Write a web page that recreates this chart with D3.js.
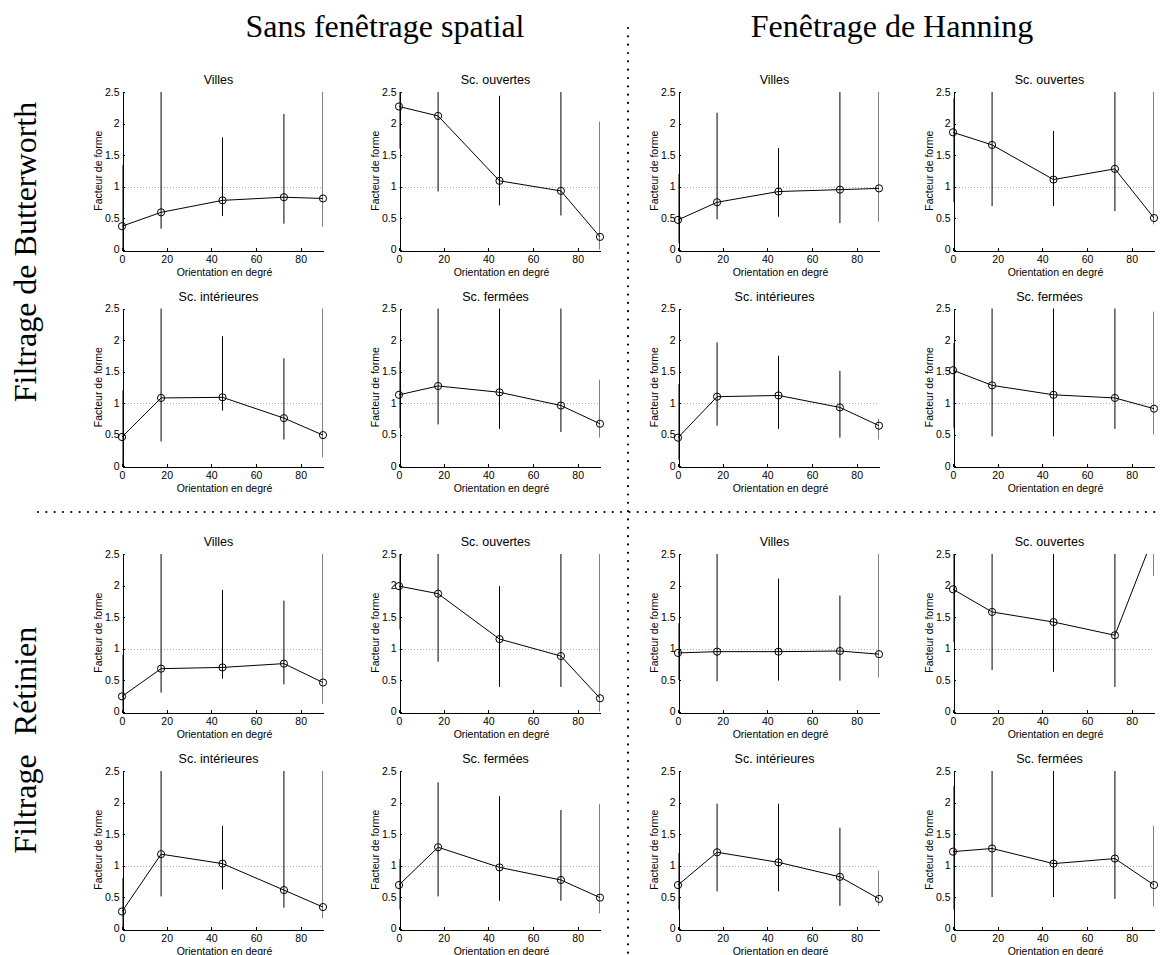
<!DOCTYPE html>
<html><head><meta charset="utf-8">
<script src="https://cdn.jsdelivr.net/npm/d3@7"></script>
<style>
body{margin:0;background:#fff;}
svg{display:block;}
</style>
</head><body>
<svg id="chart" width="1160" height="955"></svg>
<script>
// ---------- data ----------
const orientations = [0, 17.5, 45, 72.5, 90];
const xTicks = [0, 20, 40, 60, 80];
const yTicks = [0, 0.5, 1, 1.5, 2, 2.5];
const yTickLabels = ["0", "0.5", "1", "1.5", "2", "2.5"];
const sceneTitles = ["Villes", "Sc. ouvertes", "Sc. intérieures", "Sc. fermées"];
const columnHeaders = ["Sans fenêtrage spatial", "Fenêtrage de Hanning"];
const filterWords = [["Filtrage de Butterworth"], ["Rétinien", "Filtrage"]];
const xLabel = "Orientation en degré";
const yLabel = "Facteur de forme";
const referenceLevel = 1;

// Butterworth, sans fenêtrage (Villes, Sc. ouvertes, Sc. intérieures, Sc. fermées)
const bwSansMean = [[0.37, 0.59, 0.78, 0.83, 0.81], [2.27, 2.12, 1.09, 0.93, 0.20], [0.46, 1.08, 1.09, 0.76, 0.49], [1.13, 1.27, 1.17, 0.96, 0.67]];
const bwSansLow  = [[-0.60, 0.33, 0.53, 0.41, 0.36], [1.60, 0.92, 0.70, 0.54, -1.63], [-0.30, 0.39, 0.88, 0.42, 0.14], [0.60, 0.66, 0.59, 0.54, 0.45]];
const bwSansHigh = [[1.34, 2.90, 1.78, 2.15, 2.70], [2.95, 3.30, 2.44, 3.20, 2.03], [1.20, 2.90, 2.06, 1.71, 2.80], [1.66, 2.70, 2.60, 2.55, 1.37]];
// Butterworth, fenêtrage de Hanning
const bwHanMean = [[0.47, 0.75, 0.92, 0.95, 0.97], [1.86, 1.66, 1.11, 1.28, 0.50], [0.45, 1.10, 1.12, 0.93, 0.64], [1.52, 1.28, 1.13, 1.08, 0.91]];
const bwHanLow  = [[0.10, 0.48, 0.52, 0.42, 0.44], [0.75, 0.69, 0.69, 0.61, 0.40], [0.10, 0.64, 0.59, 0.45, 0.42], [0.60, 0.47, 0.47, 0.59, 0.50]];
const bwHanHigh = [[1.20, 2.17, 1.61, 2.60, 2.70], [2.40, 2.80, 1.88, 2.70, 2.70], [1.30, 1.96, 1.75, 1.51, 0.75], [1.95, 2.70, 2.90, 2.60, 2.45]];
// Rétinien, sans fenêtrage
const retSansMean = [[0.24, 0.68, 0.70, 0.76, 0.46], [1.99, 1.87, 1.15, 0.88, 0.21], [0.27, 1.18, 1.03, 0.61, 0.34], [0.69, 1.29, 0.97, 0.77, 0.49]];
const retSansLow  = [[-0.20, 0.30, 0.52, 0.43, 0.12], [1.30, 0.79, 0.39, 0.39, -0.30], [-0.20, 0.51, 0.62, 0.33, 0.16], [0.30, 0.51, 0.44, 0.44, 0.24]];
const retSansHigh = [[0.90, 2.80, 1.93, 1.76, 2.90], [2.60, 2.70, 1.99, 2.70, 2.80], [0.80, 2.70, 1.63, 2.60, 2.70], [1.10, 2.32, 2.10, 1.88, 1.98]];
// Rétinien, fenêtrage de Hanning
const retHanMean = [[0.93, 0.95, 0.95, 0.96, 0.91], [1.94, 1.58, 1.42, 1.21, 2.80], [0.69, 1.21, 1.05, 0.82, 0.47], [1.22, 1.27, 1.03, 1.11, 0.69]];
const retHanLow  = [[0.50, 0.48, 0.49, 0.49, 0.54], [1.10, 0.66, 0.63, 0.39, 2.15], [0.30, 0.59, 0.59, 0.36, 0.36], [0.30, 0.50, 0.50, 0.47, 0.35]];
const retHanHigh = [[1.40, 2.70, 2.11, 1.84, 2.60], [2.60, 2.70, 2.70, 2.70, 3.50], [1.20, 1.98, 1.98, 1.60, 0.92], [2.26, 2.70, 2.90, 2.70, 1.63]];

// quadrants: [filter][window]
const quadrants = [
  [{m: bwSansMean, lo: bwSansLow, hi: bwSansHigh}, {m: bwHanMean, lo: bwHanLow, hi: bwHanHigh}],
  [{m: retSansMean, lo: retSansLow, hi: retSansHigh}, {m: retHanMean, lo: retHanLow, hi: retHanHigh}]
];

// ---------- layout ----------
const colX0 = [122, 399, 678, 953];
const rowTop = [92, 308.5, 554, 771];
const plotW = 201, plotH = 157.5;
const sansFont = "'Liberation Sans', Arial, Helvetica, sans-serif";
const serifFont = "'Liberation Serif', 'Times New Roman', serif";

const svg = d3.select("#chart");
const defs = svg.append("defs");

let clipId = 0;
function drawSubplot(gc, gr, title, mean, lo, hi) {
  const x0 = colX0[gc], top = rowTop[gr];
  const x = d3.scaleLinear().domain([0, 90]).range([x0, x0 + plotW]);
  const y = d3.scaleLinear().domain([0, 2.5]).range([top + plotH, top]);
  const g = svg.append("g");

  const cid = "clip" + (clipId++);
  defs.append("clipPath").attr("id", cid).append("rect")
    .attr("x", x0).attr("y", top).attr("width", plotW).attr("height", plotH);
  const mid = "mclip" + (clipId++);
  defs.append("clipPath").attr("id", mid).append("rect")
    .attr("x", x0 - 6).attr("y", top - 5).attr("width", plotW + 12).attr("height", plotH + 10);

  // reference dotted line at 1
  g.append("line")
    .attr("x1", x(0)).attr("x2", x(90))
    .attr("y1", Math.round(y(referenceLevel)) + 0.5).attr("y2", Math.round(y(referenceLevel)) + 0.5)
    .attr("stroke", "#9a9a9a").attr("stroke-width", 0.8).attr("stroke-dasharray", "1,2");

  const dg = g.append("g").attr("clip-path", `url(#${cid})`);
  // error bars
  dg.selectAll("line.err").data(orientations).enter().append("line")
    .attr("x1", (d) => x(d)).attr("x2", (d) => x(d))
    .attr("y1", (d, i) => y(lo[i])).attr("y2", (d, i) => y(hi[i]))
    .attr("stroke", "#000").attr("stroke-width", 1);
  // line
  const pts = orientations.map((o, i) => [o, mean[i]]);
  dg.append("path")
    .attr("d", d3.line().x((d) => x(d[0])).y((d) => y(d[1]))(pts))
    .attr("fill", "none").attr("stroke", "#000").attr("stroke-width", 1);
  // markers
  g.append("g").attr("clip-path", `url(#${mid})`)
    .selectAll("circle").data(pts).enter().append("circle")
    .attr("cx", (d) => x(d[0])).attr("cy", (d) => y(d[1])).attr("r", 3.6)
    .attr("fill", "none").attr("stroke", "#000").attr("stroke-width", 1);

  // axes
  const yAxis = d3.axisLeft(y).tickValues(yTicks).tickFormat((d, i) => yTickLabels[i])
    .tickSizeInner(-2.5).tickSizeOuter(0).tickPadding(3);
  const xAxis = d3.axisBottom(x).tickValues(xTicks).tickFormat(d3.format("d"))
    .tickSizeInner(-2.5).tickSizeOuter(0).tickPadding(5);
  const ya = g.append("g").attr("transform", `translate(${Math.round(x0) + 0.5},0)`).call(yAxis);
  const xa = g.append("g").attr("transform", `translate(0,${Math.round(top + plotH) + 0.5})`).call(xAxis);
  [ya, xa].forEach((a) => {
    a.attr("font-family", sansFont).attr("font-size", 10.5);
    a.selectAll("path,line").attr("stroke", "#000").attr("shape-rendering", "crispEdges");
    a.selectAll("text").attr("fill", "#000");
  });

  // labels
  g.append("text").attr("x", x0 + plotW / 2 - 4).attr("y", top - 8)
    .attr("text-anchor", "middle").attr("font-family", sansFont).attr("font-size", 12.5).text(title);
  g.append("text").attr("x", x0 + plotW / 2 + 2).attr("y", top + plotH + 26)
    .attr("text-anchor", "middle").attr("font-family", sansFont).attr("font-size", 10.5).text(xLabel);
  g.append("text")
    .attr("transform", `translate(${x0 - 20.5},${top + plotH / 2}) rotate(-90)`)
    .attr("text-anchor", "middle").attr("font-family", sansFont).attr("font-size", 10.5).text(yLabel);
}

quadrants.forEach((qRow, f) => {
  qRow.forEach((q, w) => {
    for (let k = 0; k < 4; k++) {
      const r = Math.floor(k / 2), c = k % 2;
      drawSubplot(w * 2 + c, f * 2 + r, sceneTitles[k], q.m[k], q.lo[k], q.hi[k]);
    }
  });
});

// headers
const headerX = [385, 892];
columnHeaders.forEach((h, i) => {
  svg.append("text").attr("x", headerX[i]).attr("y", 37).attr("text-anchor", "middle")
    .attr("font-family", serifFont).attr("font-size", 32).text(h);
});
const filterCenters = [[252], [681, 804]];
filterWords.forEach((words, i) => {
  words.forEach((wd, j) => {
    svg.append("text")
      .attr("transform", `translate(36,${filterCenters[i][j]}) rotate(-90)`)
      .attr("text-anchor", "middle").attr("font-family", serifFont).attr("font-size", 32).text(wd);
  });
});

// dotted separators
svg.append("line").attr("x1", 628).attr("x2", 628).attr("y1", 28).attr("y2", 960)
  .attr("stroke", "#000").attr("stroke-width", 2.2).attr("stroke-linecap", "round")
  .attr("stroke-dasharray", "0,8.33");
svg.append("line").attr("x1", 38).attr("x2", 1165).attr("y1", 512).attr("y2", 512)
  .attr("stroke", "#000").attr("stroke-width", 2.2).attr("stroke-linecap", "round")
  .attr("stroke-dasharray", "0,8.33");
</script>
</body></html>
